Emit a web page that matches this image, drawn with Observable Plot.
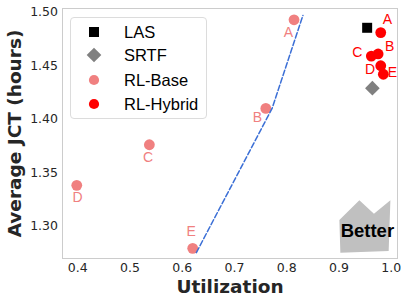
<!DOCTYPE html>
<html><head><meta charset="utf-8">
<script src="https://cdn.jsdelivr.net/npm/d3@7"></script>
<script src="https://cdn.jsdelivr.net/npm/@observablehq/plot@0.6"></script>
<style>
body{margin:0;background:#fff;}
#wrap{position:relative;width:407px;height:304px;}
#legend{position:absolute;left:70px;top:17px;width:137px;height:102px;box-sizing:border-box;border:1px solid #dcdcdc;border-radius:4px;background:rgba(255,255,255,0.85);font-family:"Liberation Sans",Arial,sans-serif;font-size:16.5px;color:#000;}
.row{position:absolute;left:0;width:100%;height:24px;}
.row svg{position:absolute;left:11px;top:0;}
.row span{position:absolute;left:53px;top:0;line-height:24px;white-space:nowrap;}
</style></head><body><div id="wrap"><div id="legend"></div></div>
<script>
// ---- data ----
const baseLabels = ["A", "B", "C", "D", "E"];
const baseUtil = [0.814, 0.760, 0.537, 0.398, 0.620];
const baseJCT = [1.493, 1.410, 1.376, 1.338, 1.279];
const hybridLabels = ["A", "B", "C", "D", "E"];
const hybridUtil = [0.980, 0.975, 0.962, 0.980, 0.985];
const hybridJCT = [1.481, 1.461, 1.459, 1.450, 1.442];
const lasUtil = [0.954];
const lasJCT = [1.4855];
const srtfUtil = [0.964];
const srtfJCT = [1.429];
const frontierUtil = [0.627, 0.772, 0.831];
const frontierJCT = [1.275, 1.410, 1.497];
const arrowUtil = [0.9027, 0.9008, 0.9391, 0.9670, 0.9985, 0.9952];
const arrowJCT = [1.2749, 1.3055, 1.3241, 1.3113, 1.3241, 1.2765];
const betterUtil = [0.9544];
const betterJCT = [1.295];
const xTicks = [0.4, 0.5, 0.6, 0.7, 0.8, 0.9, 1.0];
const yTicks = [1.30, 1.35, 1.40, 1.45, 1.50];
const legendNames = ["LAS", "SRTF", "RL-Base", "RL-Hybrid"];

// ---- styling ----
const baseColor = "#f08080", hybridColor = "#ff0000", lasColor = "#000000", srtfColor = "#808080";
const baseLabelOffsets = [[-5.6, 12.7], [-8.5, 8.7], [-1.4, 12.8], [0.8, 12.4], [-1.6, -16.8]];
const hybridLabelOffsets = [[6.7, -13.4], [11.6, -7.3], [-14, -3.4], [-10.7, 4], [9, -1.6]];
const labelFont = "Liberation Sans, Arial, sans-serif";

const idx = a => a.map((_, i) => i);
const labelMarks = (labels, xs, ys, offs, color) => labels.map((t, i) =>
  Plot.text([i], {x: j => xs[j], y: j => ys[j], text: j => labels[j], dx: offs[i][0], dy: offs[i][1],
    fill: color, fontSize: 14, fontFamily: labelFont, textAnchor: "middle", lineAnchor: "middle"}));

const chart = Plot.plot({
  width: 407, height: 304,
  marginLeft: 62, marginRight: 10, marginTop: 8, marginBottom: 46,
  style: {fontFamily: "DejaVu Sans", fontSize: "12.5px", color: "#262626", background: "#fff"},
  x: {domain: [0.3707, 1.0121], ticks: xTicks, tickFormat: d3.format(".1f"), tickSize: 0, tickPadding: 5, label: null},
  y: {domain: [1.26948, 1.50356], ticks: yTicks, tickFormat: d3.format(".2f"), tickSize: 0, tickPadding: 4.5, label: null},
  marks: [
    Plot.frame({stroke: "#cccccc"}),
    Plot.line(idx(arrowUtil), {x: i => arrowUtil[i], y: i => arrowJCT[i], fill: "#c0c0c0", stroke: "none", curve: "linear-closed"}),
    Plot.text(idx(betterUtil), {x: i => betterUtil[i], y: i => betterJCT[i], text: () => "Better", fontWeight: "bold", fontSize: 18.5, fontFamily: labelFont, fill: "#000", textAnchor: "middle", lineAnchor: "middle"}),
    Plot.dot(idx(baseUtil), {x: i => baseUtil[i], y: i => baseJCT[i], r: 5.4, fill: baseColor, stroke: "none"}),
    Plot.line(idx(frontierUtil), {x: i => frontierUtil[i], y: i => frontierJCT[i], stroke: "#3b6fd6", strokeWidth: 1.5, strokeDasharray: "5.5,2.4"}),
    Plot.dot(idx(lasUtil), {x: i => lasUtil[i], y: i => lasJCT[i], r: 5.64, symbol: "square", fill: lasColor, stroke: "none"}),
    Plot.dot(idx(srtfUtil), {x: i => srtfUtil[i], y: i => srtfJCT[i], r: 6.6, symbol: "diamond2", fill: srtfColor, stroke: "none"}),
    Plot.dot(idx(hybridUtil), {x: i => hybridUtil[i], y: i => hybridJCT[i], r: 5.4, fill: hybridColor, stroke: "none"}),
    ...labelMarks(baseLabels, baseUtil, baseJCT, baseLabelOffsets, baseColor),
    ...labelMarks(hybridLabels, hybridUtil, hybridJCT, hybridLabelOffsets, hybridColor),
    Plot.text(["Utilization"], {frameAnchor: "bottom", dy: 29, text: d => d, fontWeight: "bold", fontSize: 18.5, fill: "#262626", textAnchor: "middle", lineAnchor: "middle"}),
    Plot.text(["Average JCT (hours)"], {frameAnchor: "left", dx: -47, rotate: -90, text: d => d, fontWeight: "bold", fontSize: 18.5, fill: "#262626", textAnchor: "middle", lineAnchor: "middle"})
  ]
});
document.getElementById("wrap").prepend(chart);

// ---- legend ----
const legendSymbols = [d3.symbolSquare, d3.symbolDiamond2, d3.symbolCircle, d3.symbolCircle];
const legendSizes = [100, 137, 82, 82];
const legendColors = [lasColor, srtfColor, baseColor, hybridColor];
const rowCenters = [13.7, 37.3, 62, 85.7];
const leg = document.getElementById("legend");
legendNames.forEach((name, i) => {
  const row = document.createElement("div");
  row.className = "row";
  row.style.top = (rowCenters[i] - 12) + "px";
  const path = d3.symbol(legendSymbols[i], legendSizes[i])();
  row.innerHTML = `<svg width="24" height="24"><path transform="translate(12,12)" d="${path}" fill="${legendColors[i]}"/></svg><span>${name}</span>`;
  leg.appendChild(row);
});
</script>
</body></html>
